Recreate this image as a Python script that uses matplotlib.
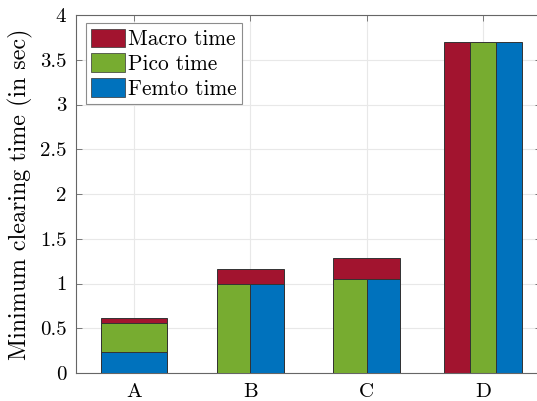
import numpy as np
import matplotlib
matplotlib.use('Agg')
import matplotlib.pyplot as plt
from matplotlib.ticker import FuncFormatter

plt.rcParams['font.family'] = 'serif'
plt.rcParams['font.serif'] = ['cmr10', 'DejaVu Serif']
plt.rcParams['axes.formatter.use_mathtext'] = True

# data
categories = ['A', 'B', 'C', 'D']
macro_time = [0.61, 1.16, 1.28, 3.7]
pico_time = [0.555, 1.0, 1.05, 3.7]
femto_time = [0.23, 1.0, 1.05, 3.7]

c_macro = '#A2142F'
c_pico = '#77AC30'
c_femto = '#0072BD'
ec = '#333333'
lw = 0.7

fig = plt.figure(figsize=(5.37, 4.01), dpi=100)
ax = fig.add_axes([76 / 537, 28 / 401, 465 / 537, 358 / 401])

x = np.arange(1, len(categories) + 1)
w = 0.57
for i, xi in enumerate(x):
    if i == 0:
        # all three drawn on top of each other
        ax.bar(xi, macro_time[i], w, color=c_macro, edgecolor=ec, lw=lw, zorder=2)
        ax.bar(xi, pico_time[i], w, color=c_pico, edgecolor=ec, lw=lw, zorder=3)
        ax.bar(xi, femto_time[i], w, color=c_femto, edgecolor=ec, lw=lw, zorder=4)
    elif i < 3:
        # macro behind, pico and femto split the bar
        ax.bar(xi, macro_time[i], w, color=c_macro, edgecolor=ec, lw=lw, zorder=2)
        ax.bar(xi - w / 4, pico_time[i], w / 2, color=c_pico, edgecolor=ec, lw=lw, zorder=3)
        ax.bar(xi + w / 4, femto_time[i], w / 2, color=c_femto, edgecolor=ec, lw=lw, zorder=3)
    else:
        bw = 0.222
        ax.bar(xi - bw, macro_time[i], bw, color=c_macro, edgecolor=ec, lw=lw, zorder=2)
        ax.bar(xi, pico_time[i], bw, color=c_pico, edgecolor=ec, lw=lw, zorder=2)
        ax.bar(xi + bw, femto_time[i], bw, color=c_femto, edgecolor=ec, lw=lw, zorder=2)

ax.set_xlim(0.5, 4.5)
ax.set_ylim(0, 4)
ax.set_xticks(x)
ax.set_xticklabels(categories)
ax.set_yticks(np.arange(0, 4.01, 0.5))
ax.yaxis.set_major_formatter(FuncFormatter(lambda v, p: '%g' % v))
ax.tick_params(direction='in', length=4, width=0.6, color='0.4',
               labelsize=15, top=True, right=True)
ax.tick_params(axis='x', pad=7)
ax.tick_params(axis='y', pad=7)
ax.grid(True, color='#e8e8e8', lw=0.8, zorder=0)
ax.set_axisbelow(True)
for s in ax.spines.values():
    s.set_color('0.4')
    s.set_linewidth(0.8)

ax.set_ylabel('Minimum clearing time (in sec)', fontsize=17.3, labelpad=5)

handles = [plt.Rectangle((0, 0), 1, 1, fc=c, ec=ec, lw=0.5) for c in (c_macro, c_pico, c_femto)]
leg = ax.legend(handles, ['Macro time', 'Pico time', 'Femto time'], loc='upper left',
                bbox_to_anchor=(0.017, 0.983), fontsize=15.4, fancybox=False,
                edgecolor='0.55', framealpha=1, handlelength=1.55, handleheight=0.95,
                handletextpad=0.15, labelspacing=0.2, borderpad=0.25, borderaxespad=0.1)
leg.get_frame().set_linewidth(0.8)

fig.savefig('out.png', dpi=100)
